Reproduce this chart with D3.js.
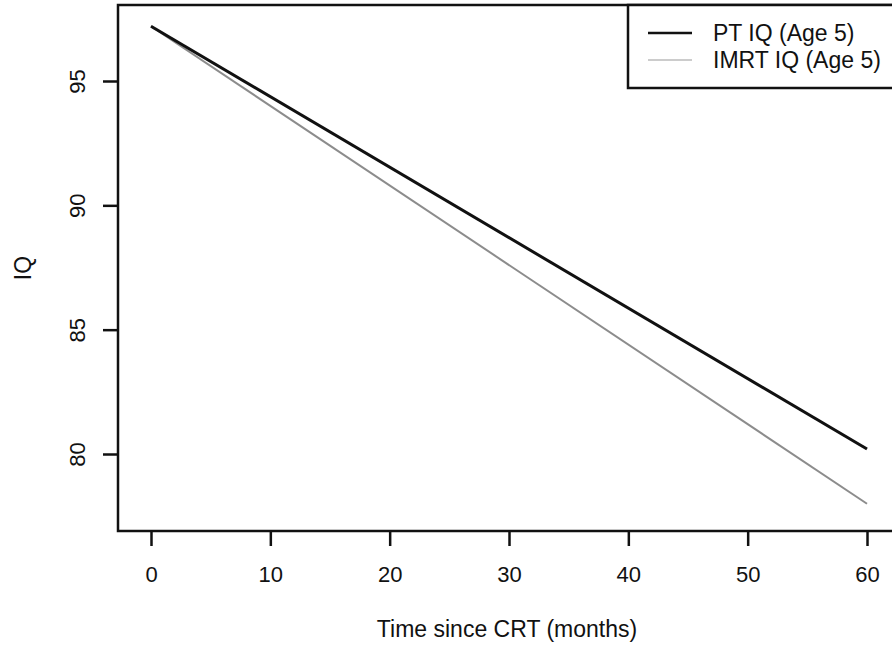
<!DOCTYPE html>
<html>
<head>
<meta charset="utf-8">
<script src="https://d3js.org/d3.v7.min.js"></script>
<style>
  body { margin: 0; background: #fff; }
  text { font-family: "Liberation Sans", Arial, sans-serif; fill: #111; }
</style>
</head>
<body>
<script>
// data
var months = [0, 60];
var ptIQ = [97.2, 80.2];
var imrtIQ = [97.2, 78.0];
var xTicks = [0, 10, 20, 30, 40, 50, 60];
var yTicks = [80, 85, 90, 95];
var seriesNames = ["PT IQ (Age 5)", "IMRT IQ (Age 5)"];

var w = 892, h = 645;
var box = {l: 118, t: 5, r: 896, b: 531};

var x = d3.scaleLinear().domain([0, 60]).range([151, 867]);
var y = d3.scaleLinear().domain([80, 95]).range([454, 81]);

var svg = d3.select("body").append("svg").attr("width", w).attr("height", h);

// lines
var ptData = months.map(function(m, i){ return [m, ptIQ[i]]; });
var imrtData = months.map(function(m, i){ return [m, imrtIQ[i]]; });
var line = d3.line().x(function(d){ return x(d[0]); }).y(function(d){ return y(d[1]); });

svg.append("path").attr("d", line(imrtData)).attr("fill", "none")
   .attr("stroke", "#8c8c8c").attr("stroke-width", 2);
svg.append("path").attr("d", line(ptData)).attr("fill", "none")
   .attr("stroke", "#111").attr("stroke-width", 3);

// box
svg.append("rect").attr("x", box.l).attr("y", box.t)
   .attr("width", box.r - box.l).attr("height", box.b - box.t)
   .attr("fill", "none").attr("stroke", "#111").attr("stroke-width", 2.5);

// axes
var xAxis = d3.axisBottom(x).tickValues(xTicks).tickSize(15).tickPadding(20);
var gx = svg.append("g").attr("transform", "translate(0," + box.b + ")").call(xAxis);
gx.select(".domain").remove();
gx.selectAll(".tick line").attr("stroke", "#111").attr("stroke-width", 2.5);
gx.selectAll(".tick text").attr("font-size", 22).attr("fill", "#111")
  .attr("font-family", "Liberation Sans, Arial, sans-serif");

var yAxis = d3.axisLeft(y).tickValues(yTicks).tickSize(15).tickPadding(0);
var gy = svg.append("g").attr("transform", "translate(" + box.l + ",0)").call(yAxis);
gy.select(".domain").remove();
gy.selectAll(".tick line").attr("stroke", "#111").attr("stroke-width", 2.5);
gy.selectAll(".tick text").attr("font-size", 22).attr("fill", "#111")
  .attr("font-family", "Liberation Sans, Arial, sans-serif")
  .attr("x", 0).attr("dy", null).attr("text-anchor", "middle")
  .attr("transform", "translate(-41,0) rotate(-90)")
  .attr("dominant-baseline", "central");

// axis titles
svg.append("text").attr("x", 507).attr("y", 637)
   .attr("text-anchor", "middle").attr("font-size", 23).text("Time since CRT (months)");
svg.append("text").attr("transform", "translate(31," + ((box.t + box.b) / 2) + ") rotate(-90)")
   .attr("text-anchor", "middle").attr("font-size", 23).text("IQ");

// legend
var leg = svg.append("g");
leg.append("rect").attr("x", 628).attr("y", box.t).attr("width", 280).attr("height", 88 - box.t)
   .attr("fill", "#fff").attr("stroke", "#111").attr("stroke-width", 2.5);
var legColors = ["#111", "#9a9a9a"];
var legWidths = [2.5, 1.2];
seriesNames.forEach(function(name, i){
  var yy = 33 + i * 27;
  leg.append("line").attr("x1", 648).attr("x2", 692).attr("y1", yy).attr("y2", yy)
     .attr("stroke", legColors[i]).attr("stroke-width", legWidths[i]);
  leg.append("text").attr("x", 713).attr("y", yy).attr("dy", "0.35em")
     .attr("font-size", 23).text(name);
});
</script>
</body>
</html>
